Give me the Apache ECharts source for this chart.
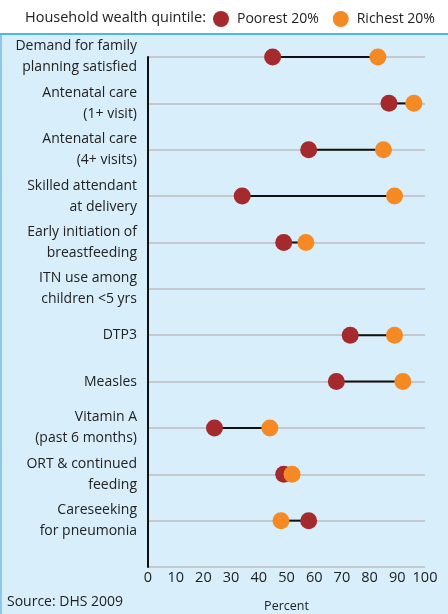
<!DOCTYPE html>
<html>
<head>
<meta charset="utf-8">
<script src="https://cdn.jsdelivr.net/npm/echarts@6/dist/echarts.min.js"></script>
<style>
  html, body { margin: 0; padding: 0; background: #fff; }
  #chart { width: 448px; height: 614px; }
</style>
</head>
<body>
<div id="chart"></div>
<script>
// categories, top to bottom
var indicators = [
    'Demand for family\nplanning satisfied',
    'Antenatal care\n(1+ visit)',
    'Antenatal care\n(4+ visits)',
    'Skilled attendant\nat delivery',
    'Early initiation of\nbreastfeeding',
    'ITN use among\nchildren <5 yrs',
    'DTP3',
    'Measles',
    'Vitamin A\n(past 6 months)',
    'ORT & continued\nfeeding',
    'Careseeking\nfor pneumonia'
];
// percent, null = no data
var poorest = [45, 87, 58, 34, 49, null, 73, 68, 24, 49, 58];
var richest = [83, 96, 85, 89, 57, null, 89, 92, 44, 52, 48];
var xTicks = [0, 10, 20, 30, 40, 50, 60, 70, 80, 90, 100];

var fontFam = '"Open Sans", "Noto Sans", sans-serif';

// extra empty slot so the last row sits above the x axis
var yCats = indicators.concat(['']);

function pts(arr) {
    var out = [];
    for (var i = 0; i < arr.length; i++) {
        if (arr[i] != null) out.push([arr[i], i]);
    }
    return out;
}

var pairs = [];
for (var i = 0; i < indicators.length; i++) {
    if (poorest[i] != null && richest[i] != null) {
        pairs.push([poorest[i], richest[i], i]);
    }
}

var myChart = echarts.init(document.getElementById('chart'));
myChart.setOption({
    backgroundColor: '#D8EEFA',
    animation: false,
    textStyle: { fontFamily: fontFam },
    graphic: [
        // white header band + blue rule
        { type: 'rect', left: 0, top: 0, shape: { width: 448, height: 34 }, style: { fill: '#fff' }, z: -1 },
        { type: 'rect', left: 0, top: 33, shape: { width: 448, height: 2 }, style: { fill: '#4DB6E8' } },
        { type: 'rect', left: 0, top: 35, shape: { width: 2, height: 579 }, style: { fill: '#8CC8EC' } },
        { type: 'text', left: 25, top: 10, style: { text: 'Household wealth quintile:', fontSize: 14.5, fill: '#222', fontFamily: fontFam } },
        { type: 'text', left: 7, top: 595, style: { text: 'Source: DHS 2009', fontSize: 14, fill: '#222', fontFamily: fontFam } }
    ],
    legend: {
        left: 213,
        top: 11,
        width: 235,
        padding: 0,
        itemWidth: 16,
        itemHeight: 16,
        itemGap: 14,
        icon: 'circle',
        textStyle: { fontSize: 14, color: '#222', fontFamily: fontFam, padding: [0, 0, 0, 3] },
        data: ['Poorest 20%', 'Richest 20%']
    },
    grid: { left: 148, right: 23, top: 57, bottom: 47, outerBoundsMode: 'none', containLabel: false },
    xAxis: {
        type: 'value',
        min: 0,
        max: 100,
        interval: 10,
        name: 'Percent',
        nameLocation: 'middle',
        nameGap: 33,
        nameTextStyle: { fontSize: 12.5, color: '#222' },
        axisLine: { lineStyle: { color: '#111', width: 2 } },
        axisTick: { show: false },
        splitLine: { show: false },
        axisLabel: { fontSize: 14.5, color: '#222', margin: 3, customValues: xTicks }
    },
    yAxis: {
        type: 'category',
        inverse: true,
        boundaryGap: false,
        data: yCats,
        axisLine: { lineStyle: { color: '#111', width: 2 } },
        axisTick: { show: false },
        axisLabel: { fontSize: 14, color: '#222', lineHeight: 21, margin: 11, align: 'right', interval: 0 },
        splitLine: { show: true, lineStyle: { color: '#BDBDBD', width: 1.5 } }
    },
    series: [
        {
            name: 'gap',
            type: 'custom',
            data: pairs,
            z: 1,
            renderItem: function (params, api) {
                var a = api.coord([api.value(0), api.value(2)]);
                var b = api.coord([api.value(1), api.value(2)]);
                return {
                    type: 'line',
                    shape: { x1: a[0], y1: a[1], x2: b[0], y2: b[1] },
                    style: { stroke: '#111', lineWidth: 2 }
                };
            },
            encode: { x: [0, 1], y: 2 },
            silent: true
        },
        {
            name: 'Poorest 20%',
            type: 'scatter',
            data: pts(poorest),
            symbolSize: 17,
            z: 3,
            itemStyle: { color: '#A52A2D', opacity: 1 }
        },
        {
            name: 'Richest 20%',
            type: 'scatter',
            data: pts(richest),
            symbolSize: 17,
            z: 4,
            itemStyle: { color: '#F58A24', opacity: 1 }
        }
    ]
});
</script>
</body>
</html>
